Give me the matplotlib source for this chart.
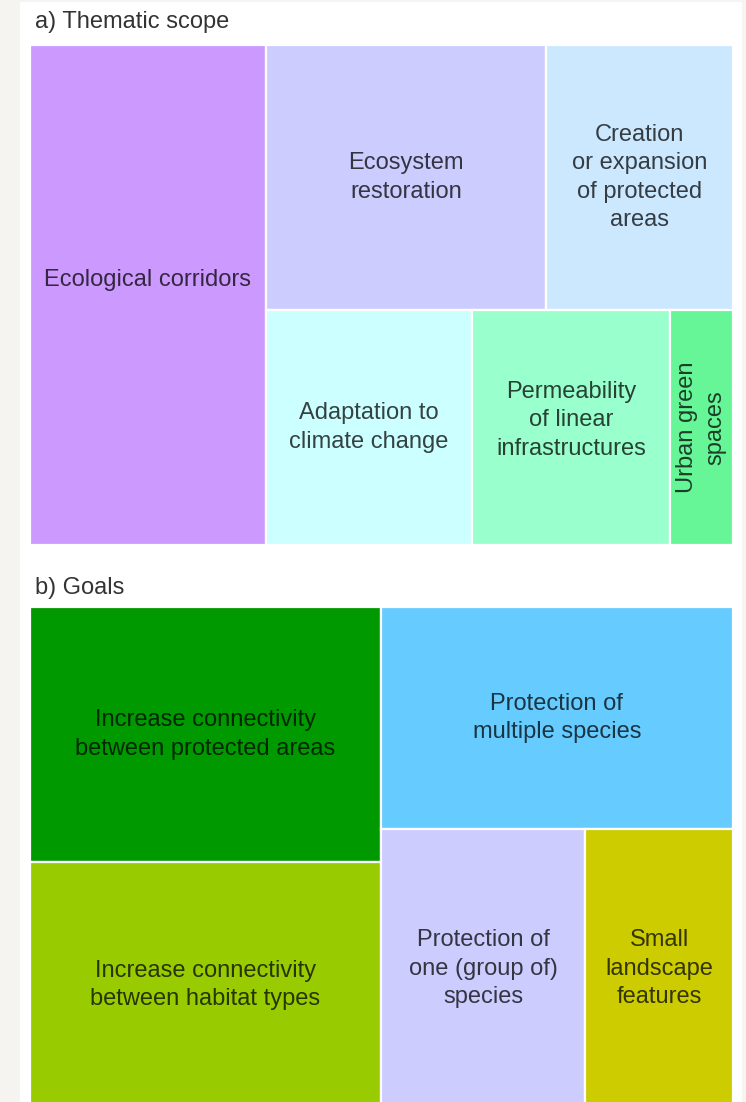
import matplotlib
matplotlib.use('Agg')
import matplotlib.pyplot as plt
from matplotlib.patches import Rectangle

# a) Thematic scope (share of initiatives, %)
scope_labels = ['Ecological corridors', 'Ecosystem\nrestoration',
                'Creation\nor expansion\nof protected\nareas',
                'Adaptation to\nclimate change',
                'Permeability\nof linear\ninfrastructures',
                'Urban green\nspaces']
scope_values = [33.5, 21.2, 14.1, 13.8, 13.2, 4.2]
scope_colors = ['#cc99ff', '#ccccff', '#cce8ff', '#ccffff', '#99ffcc', '#66f597']
# grouping of the slice-and-dice layout (indices into the lists above)
scope_tree = [0, [[1, 2], [3, 4, 5]]]

# b) Goals
goal_labels = ['Increase connectivity\nbetween protected areas',
               'Increase connectivity\nbetween habitat types',
               'Protection of\nmultiple species',
               'Protection of\none (group of)\nspecies',
               'Small\nlandscape\nfeatures']
goal_values = [25.4, 24.5, 22.2, 16.2, 11.7]
goal_colors = ['#009900', '#99cc00', '#66ccff', '#ccccff', '#cccc00']
goal_tree = [[0, 1], [2, [3, 4]]]

W, H = 746, 1102
BG = '#f6f4f0'
FONT = 'Liberation Sans'


def node_sum(node, values):
    if isinstance(node, list):
        return sum(node_sum(n, values) for n in node)
    return values[node]


def layout(node, values, x, y, w, h, horizontal=True, out=None):
    """Slice-and-dice treemap: alterna tagli orizzontali e verticali."""
    if out is None:
        out = {}
    if not isinstance(node, list):
        out[node] = (x, y, w, h)
        return out
    total = node_sum(node, values)
    pos = x if horizontal else y
    for child in node:
        frac = node_sum(child, values) / total
        if horizontal:
            layout(child, values, pos, y, w * frac, h, False, out)
            pos += w * frac
        else:
            layout(child, values, x, pos, w, h * frac, True, out)
            pos += h * frac
    return out


def draw_treemap(ax, tree, labels, values, colors, rotate=(), nudge=None):
    nudge = nudge or {}
    rects = layout(tree, values, 0, 0, 1, 1)
    for i, (x, y, w, h) in rects.items():
        ax.add_patch(Rectangle((x, y), w, h, facecolor=colors[i],
                               edgecolor='white', linewidth=1.6))
        ax.text(x + w / 2, y + h / 2 + nudge.get(i, 0), labels[i],
                ha='center', va='center', fontsize=17, family=FONT,
                color='black', alpha=0.74,
                rotation=90 if i in rotate else 0, linespacing=1.38)
    ax.set_xlim(0, 1)
    ax.set_ylim(1, 0)
    ax.axis('off')


fig = plt.figure(figsize=(W / 100, H / 100), dpi=100)
fig.patch.set_facecolor(BG)
fig.patches.append(Rectangle((20 / W, 0), 722 / W, 1 - 2 / H,
                             transform=fig.transFigure, facecolor='white',
                             edgecolor='none', zorder=-10))

ax1 = fig.add_axes([30 / W, 1 - 545 / H, 703 / W, 500 / H])
draw_treemap(ax1, scope_tree, scope_labels, scope_values, scope_colors,
             rotate=(5,), nudge={0: -0.03, 4: -0.015})
ax2 = fig.add_axes([30 / W, 1 - 1108 / H, 703 / W, 501 / H])
draw_treemap(ax2, goal_tree, goal_labels, goal_values, goal_colors)

fig.text(35 / W, 1 - 22 / H, 'a) Thematic scope', fontsize=17, family=FONT,
         color='#333333', va='center', ha='left')
fig.text(35 / W, 1 - 588 / H, 'b) Goals', fontsize=17, family=FONT,
         color='#333333', va='center', ha='left')

fig.savefig('out.png', dpi=100, facecolor=fig.get_facecolor())
